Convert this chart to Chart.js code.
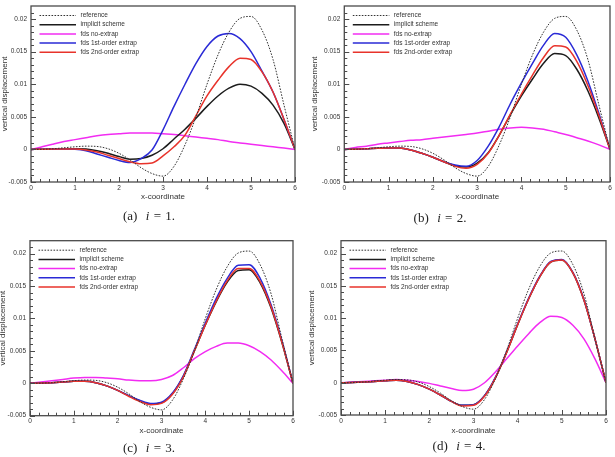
<!DOCTYPE html>
<html lang="en">
<head>
<meta charset="UTF-8" />
<title>vertical displacement</title>
<script src="https://cdn.jsdelivr.net/npm/chart.js"></script>
<style>
    * { box-sizing: border-box; margin: 0; padding: 0; }
    body {
        width: 615px; height: 457px;
        background: #fff;
        position: relative;
        overflow: hidden;
        font-family: 'Liberation Sans', Arial, sans-serif;
    }
    .panel { position: absolute; }
    .caption {
        position: absolute;
        font-family: 'Liberation Serif', 'DejaVu Serif', serif;
        font-size: 13px;
        line-height: 14px;
        color: #222;
        white-space: nowrap;
        word-spacing: 1px;
        transform: translateX(-50%);
    }
</style>
</head>
<body>

<div class="panel" style="left:0;top:0;width:305px;height:215px"><canvas id="chartA"></canvas></div>
<div class="panel" style="left:305px;top:0;width:310px;height:215px"><canvas id="chartB"></canvas></div>
<div class="panel" style="left:0;top:228px;width:305px;height:215px"><canvas id="chartC"></canvas></div>
<div class="panel" style="left:305px;top:228px;width:310px;height:215px"><canvas id="chartD"></canvas></div>

<div class="caption" style="left:149px;top:209px">(a)&nbsp; <i>i</i> = 1.</div>
<div class="caption" style="left:440px;top:211px">(b)&nbsp; <i>i</i> = 2.</div>
<div class="caption" style="left:149px;top:441px">(c)&nbsp; <i>i</i> = 3.</div>
<div class="caption" style="left:459px;top:439px">(d)&nbsp; <i>i</i> = 4.</div>

<script>
    // x positions shared by every curve
    const xs = [0, 0.25, 0.5, 0.75, 1, 1.25, 1.5, 1.75, 2, 2.25, 2.5, 2.75, 3,
                3.25, 3.5, 3.75, 4, 4.25, 4.5, 4.75, 5, 5.25, 5.5, 5.75, 6];

    const labels = ['reference', 'implicit scheme', 'fds no-extrap', 'fds 1st-order extrap', 'fds 2nd-order extrap'];

    // reference solution (same in every panel)
    const reference = [0, 0.00002, 0.0001, 0.00025, 0.0004, 0.0005, 0.00045, 0.0001, -0.0006, -0.0016, -0.0028, -0.0037, -0.0041,
                       -0.0026, 0.0007, 0.0050, 0.0100, 0.0145, 0.0180, 0.0201, 0.0204, 0.0183, 0.0138, 0.0068, 0];

    // (a) i = 1
    const implicitA = [0, 0.00002, 0.00006, 0.0001, 0.00012, 0.00005, -0.0002, -0.0006, -0.0011, -0.0015, -0.0014, -0.0009, 0.0001,
                       0.0016, 0.0031, 0.0048, 0.0066, 0.0082, 0.0094, 0.0100, 0.0097, 0.0086, 0.0068, 0.0040, 0];
    const noExtrapA = [0, 0.0004, 0.0008, 0.0012, 0.0015, 0.0018, 0.0021, 0.0023, 0.0024, 0.0025, 0.0025, 0.0025, 0.0024,
                       0.0023, 0.0021, 0.0019, 0.0017, 0.0015, 0.0012, 0.0010, 0.0008, 0.0006, 0.0004, 0.0002, 0];
    const firstA    = [0, 0.00002, 0.00005, 0.00006, 0.00002, -0.0002, -0.0007, -0.0012, -0.0017, -0.0020, -0.0014, -0.0001, 0.0030,
                       0.0066, 0.0100, 0.0132, 0.0158, 0.0174, 0.0178, 0.0170, 0.0150, 0.0120, 0.0088, 0.0046, 0];
    const secondA   = [0, 0.00002, 0.00005, 0.00006, 0.00005, -0.0001, -0.0004, -0.0009, -0.0014, -0.0019, -0.0022, -0.0021, -0.0010,
                       0.0004, 0.0022, 0.0052, 0.0082, 0.0106, 0.0127, 0.0140, 0.0138, 0.0119, 0.0088, 0.0046, 0];

    // (b) i = 2
    const implicitB = [0, 0.00003, 0.0001, 0.00018, 0.00022, 0.0002, -0.0001, -0.0006, -0.0012, -0.0019, -0.0025, -0.0027, -0.0021,
                       -0.0005, 0.0022, 0.0053, 0.0082, 0.0108, 0.0132, 0.0147, 0.0144, 0.0123, 0.0090, 0.0048, 0];
    const noExtrapB = [0, 0.0003, 0.0005, 0.0008, 0.0010, 0.0012, 0.0014, 0.0015, 0.0017, 0.0019, 0.0021, 0.0023, 0.0025,
                       0.0028, 0.0031, 0.0033, 0.0034, 0.0033, 0.0031, 0.0027, 0.0023, 0.0018, 0.0013, 0.0007, 0];
    const firstB    = [0, 0.00003, 0.0001, 0.00018, 0.00022, 0.0002, -0.0001, -0.0006, -0.0012, -0.0019, -0.0024, -0.0026, -0.0017,
                       0.0005, 0.0035, 0.0070, 0.0102, 0.0132, 0.0160, 0.0178, 0.0172, 0.0145, 0.0105, 0.0055, 0];
    const secondB   = [0, 0.00003, 0.0001, 0.00018, 0.00022, 0.0002, -0.0001, -0.0006, -0.0012, -0.0019, -0.0026, -0.0029, -0.0023,
                       -0.0006, 0.0022, 0.0054, 0.0085, 0.0114, 0.0141, 0.0159, 0.0157, 0.0135, 0.0098, 0.0052, 0];

    // (c) i = 3
    const implicitC = [0, 0.00003, 0.0001, 0.0002, 0.0003, 0.0003, 0.0001, -0.0004, -0.0011, -0.0019, -0.0027, -0.0032, -0.0030,
                       -0.0016, 0.0011, 0.0050, 0.0090, 0.0126, 0.0156, 0.0174, 0.0175, 0.0155, 0.0116, 0.0062, 0];
    const noExtrapC = [0, 0.0002, 0.0004, 0.0006, 0.0008, 0.0009, 0.0009, 0.0008, 0.0007, 0.0005, 0.0004, 0.0004, 0.0006,
                       0.0012, 0.0024, 0.0038, 0.0049, 0.0057, 0.0062, 0.0062, 0.0058, 0.0049, 0.0036, 0.0019, 0];
    const firstC    = [0, 0.00003, 0.0001, 0.0002, 0.0003, 0.0003, 0.0001, -0.0004, -0.0011, -0.0019, -0.0026, -0.0031, -0.0029,
                       -0.0015, 0.0012, 0.0052, 0.0093, 0.0131, 0.0162, 0.0182, 0.0183, 0.0162, 0.0121, 0.0065, 0];
    const secondC   = [0, 0.00003, 0.0001, 0.0002, 0.0003, 0.0003, 0.0001, -0.0004, -0.0011, -0.0020, -0.0028, -0.0033, -0.0031,
                       -0.0017, 0.0010, 0.0050, 0.0090, 0.0127, 0.0158, 0.0177, 0.0177, 0.0157, 0.0118, 0.0063, 0];

    // (d) i = 4
    const implicitD = [0, 0.00003, 0.0001, 0.0002, 0.0003, 0.0004, 0.0002, -0.0003, -0.0010, -0.0019, -0.0029, -0.0035, -0.0034,
                       -0.0020, 0.0008, 0.0047, 0.0090, 0.0130, 0.0164, 0.0187, 0.0190, 0.0170, 0.0128, 0.0068, 0];
    const noExtrapD = [0, 0.0001, 0.0002, 0.0003, 0.0004, 0.0005, 0.0004, 0.0002, -0.0001, -0.0005, -0.0009, -0.0012, -0.0010,
                       0.0000, 0.0017, 0.0037, 0.0057, 0.0076, 0.0093, 0.0103, 0.0101, 0.0089, 0.0068, 0.0037, 0];
    const firstD    = [0, 0.00003, 0.0001, 0.0002, 0.0003, 0.0004, 0.0002, -0.0003, -0.0010, -0.0019, -0.0029, -0.0035, -0.0034,
                       -0.0020, 0.0009, 0.0048, 0.0091, 0.0131, 0.0165, 0.0188, 0.0191, 0.0171, 0.0129, 0.0068, 0];
    const secondD   = [0, 0.00003, 0.0001, 0.0002, 0.0003, 0.0004, 0.0002, -0.0003, -0.0010, -0.0019, -0.0029, -0.0036, -0.0035,
                       -0.0021, 0.0008, 0.0047, 0.0090, 0.0130, 0.0164, 0.0187, 0.0190, 0.0170, 0.0128, 0.0068, 0];

    const xTicks = [0, 1, 2, 3, 4, 5, 6];
    const yTicks = [-0.005, 0, 0.005, 0.01, 0.015, 0.02];

    const styles = [
        { color: '#333333', width: 1, dash: [1.6, 1.4], order: 0 },
        { color: '#1c1c1c', width: 1.5, dash: [], order: 3 },
        { color: '#f22cf2', width: 1.5, dash: [], order: 4 },
        { color: '#2a2ad6', width: 1.5, dash: [], order: 2 },
        { color: '#e8332b', width: 1.5, dash: [], order: 1 }
    ];

    // frame + inward major/minor ticks
    const frameTicks = {
        id: 'frameTicks',
        afterDatasetsDraw(chart) {
            const { ctx, chartArea: a, scales: { x, y } } = chart;
            ctx.save();
            ctx.strokeStyle = '#4a4a4a';
            ctx.lineWidth = 1;
            for (let i = 0; i <= 30; i++) {
                const px = Math.round(x.getPixelForValue(i * 0.2)) + 0.5;
                const len = i % 5 === 0 ? 5 : 3;
                ctx.beginPath(); ctx.moveTo(px, a.bottom); ctx.lineTo(px, a.bottom - len); ctx.stroke();
            }
            for (let i = -5; i <= 21; i++) {
                const py = Math.round(y.getPixelForValue(i * 0.001)) + 0.5;
                const len = i % 5 === 0 ? 5 : 3;
                ctx.beginPath(); ctx.moveTo(a.left, py); ctx.lineTo(a.left + len, py); ctx.stroke();
            }
            ctx.lineWidth = 1.3;
            ctx.strokeRect(a.left, a.top, a.right - a.left, a.bottom - a.top);
            ctx.restore();
        }
    };

    // legend drawn inside the plot, top-left
    const innerLegend = {
        id: 'innerLegend',
        afterDraw(chart) {
            const { ctx, chartArea: a } = chart;
            ctx.save();
            ctx.font = '6.5px "Liberation Sans", Arial, sans-serif';
            ctx.textBaseline = 'middle';
            chart.data.datasets.forEach((ds, i) => {
                const yy = a.top + 9.5 + i * 9.2;
                ctx.strokeStyle = ds.borderColor;
                ctx.lineWidth = ds.borderWidth;
                ctx.setLineDash(ds.borderDash || []);
                ctx.beginPath(); ctx.moveTo(a.left + 8.5, yy); ctx.lineTo(a.left + 45, yy); ctx.stroke();
                ctx.setLineDash([]);
                ctx.fillStyle = '#333';
                ctx.fillText(ds.label, a.left + 49.5, yy);
            });
            ctx.restore();
        }
    };

    function makePanel(id, series, lay) {
        const datasets = series.map((vals, i) => ({
            label: labels[i],
            data: xs.map((x, k) => ({ x: x, y: vals[k] })),
            borderColor: styles[i].color,
            borderWidth: styles[i].width,
            borderDash: styles[i].dash,
            order: styles[i].order,
            pointRadius: 0,
            fill: false,
            cubicInterpolationMode: 'monotone'
        }));

        const tickFont = { family: "'Liberation Sans', Arial, sans-serif", size: 6.5 };
        const titleFont = { family: "'Liberation Sans', Arial, sans-serif", size: 8 };

        return new Chart(document.getElementById(id), {
            type: 'line',
            data: { datasets: datasets },
            plugins: [frameTicks, innerLegend],
            options: {
                responsive: true,
                maintainAspectRatio: false,
                animation: false,
                events: [],
                layout: { padding: { left: 0, right: lay.right, top: lay.top, bottom: 0 } },
                plugins: { legend: { display: false }, tooltip: { enabled: false } },
                scales: {
                    x: {
                        type: 'linear', min: 0, max: 6,
                        grid: { display: false, drawTicks: false },
                        border: { display: false },
                        afterBuildTicks: (s) => { s.ticks = xTicks.map(v => ({ value: v })); },
                        ticks: { color: '#333', font: tickFont, padding: 2, maxRotation: 0 },
                        title: { display: true, text: 'x-coordinate', color: '#333', font: titleFont,
                                 padding: { top: 0, bottom: lay.xTitlePad } },
                        afterFit: (s) => {
                            s.height = lay.xAxisH;
                            s.paddingLeft = s.paddingRight = s.paddingTop = s.paddingBottom = 0;
                        }
                    },
                    y: {
                        type: 'linear', min: -0.005, max: 0.022,
                        grid: { display: false, drawTicks: false },
                        border: { display: false },
                        afterBuildTicks: (s) => { s.ticks = yTicks.map(v => ({ value: v })); },
                        ticks: {
                            color: '#333', font: tickFont, padding: 4,
                            callback: (v) => String(parseFloat(Number(v).toFixed(4)))
                        },
                        title: { display: true, text: 'vertical displacement', color: '#333', font: titleFont,
                                 padding: { top: lay.yTitlePad, bottom: 0 } },
                        afterFit: (s) => {
                            s.width = lay.yAxisW;
                            s.paddingLeft = s.paddingRight = s.paddingTop = s.paddingBottom = 0;
                        }
                    }
                }
            }
        });
    }

    makePanel('chartA', [reference, implicitA, noExtrapA, firstA, secondA],
              { yAxisW: 31, right: 10, top: 6, xAxisH: 33, xTitlePad: 13.2, yTitlePad: 0.2 });
    makePanel('chartB', [reference, implicitB, noExtrapB, firstB, secondB],
              { yAxisW: 39.3, right: 5, top: 6, xAxisH: 33, xTitlePad: 13.2, yTitlePad: 5.2 });
    makePanel('chartC', [reference, implicitC, noExtrapC, firstC, secondC],
              { yAxisW: 30, right: 12, top: 12.7, xAxisH: 27.3, xTitlePad: 7.5, yTitlePad: -2.3 });
    makePanel('chartD', [reference, implicitD, noExtrapD, firstD, secondD],
              { yAxisW: 36, right: 9, top: 12.7, xAxisH: 28, xTitlePad: 7.5, yTitlePad: 2.2 });
</script>
</body>
</html>
